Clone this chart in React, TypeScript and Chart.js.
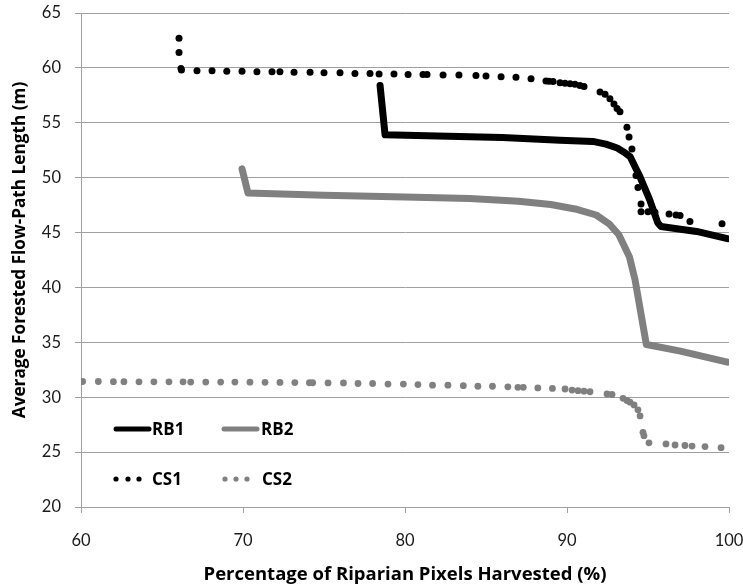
import React, { useEffect, useRef } from "react";
import { Chart, registerables } from "chart.js";

Chart.register(...registerables);

const xTicks = [60, 70, 80, 90, 100];
const yTicks = [20, 25, 30, 35, 40, 45, 50, 55, 60, 65];
const xTitle = "Percentage of Riparian Pixels Harvested (%)";
const yTitle = "Average Forested Flow-Path Length (m)";

const rb1X = [78.46, 78.77, 82, 86, 89.57, 91.6, 92.4, 93.1, 93.55, 93.9, 94.2, 94.5, 95.1, 95.6, 95.8, 98.0, 99.9];
const rb1Y = [58.4, 53.9, 53.8, 53.65, 53.4, 53.3, 53.05, 52.7, 52.3, 51.9, 51.0, 50.1, 48.0, 45.9, 45.55, 45.1, 44.45];

const rb2X = [69.94, 70.31, 75, 80, 84, 87, 89, 90.5, 91.8, 92.6, 93.2, 93.85, 94.2, 94.9, 97.0, 99.9];
const rb2Y = [50.8, 48.6, 48.4, 48.25, 48.1, 47.85, 47.55, 47.15, 46.6, 45.8, 44.8, 42.8, 40.7, 34.8, 34.2, 33.2];

const cs1X = [66.05, 66.05, 66.17, 66.2, 67.16, 68.09, 69.0, 69.94, 70.86, 71.79, 72.28, 73.15, 74.14, 75.0, 75.99, 76.91, 77.84, 78.4, 79.32, 80.19, 81.11, 81.36, 82.35, 83.33, 84.38, 85.0, 85.93, 86.85, 87.78, 88.7, 88.89, 89.14, 89.57, 89.88, 90.19, 90.49, 90.8, 91.05, 92.04, 92.35, 92.65, 92.9, 93.09, 93.27, 93.7, 93.83, 94.01, 94.26, 94.38, 94.57, 94.57, 95.0, 95.43, 96.3, 96.73, 96.98, 97.59, 99.57];
const cs1Y = [62.7, 61.4, 59.95, 59.8, 59.75, 59.75, 59.7, 59.7, 59.65, 59.65, 59.65, 59.6, 59.6, 59.55, 59.55, 59.5, 59.5, 59.45, 59.45, 59.4, 59.4, 59.4, 59.35, 59.35, 59.3, 59.25, 59.2, 59.15, 59.0, 58.8, 58.78, 58.75, 58.65, 58.6, 58.55, 58.5, 58.4, 58.3, 57.8, 57.6, 57.2, 56.7, 56.3, 56.0, 54.6, 53.7, 52.6, 50.2, 49.1, 47.6, 46.9, 46.9, 46.85, 46.7, 46.6, 46.55, 46.0, 45.8];

const cs2X = [60.1, 61.07, 62.0, 62.65, 63.58, 64.5, 65.43, 66.3, 66.77, 67.7, 68.62, 69.5, 70.43, 71.36, 72.28, 73.2, 74.1, 74.3, 75.25, 76.2, 77.1, 78.0, 78.95, 79.9, 80.8, 81.7, 82.65, 83.6, 84.5, 85.4, 86.35, 86.97, 87.3, 88.2, 89.1, 89.88, 90.31, 90.68, 91.05, 91.42, 92.47, 92.78, 93.46, 93.7, 93.89, 94.14, 94.38, 94.51, 94.69, 94.75, 95.06, 96.11, 96.67, 97.28, 97.72, 98.52, 99.51];
const cs2Y = [31.43, 31.43, 31.42, 31.42, 31.4, 31.4, 31.4, 31.4, 31.38, 31.38, 31.38, 31.38, 31.37, 31.36, 31.35, 31.33, 31.32, 31.32, 31.3, 31.3, 31.25, 31.25, 31.2, 31.2, 31.15, 31.1, 31.1, 31.05, 31.0, 31.0, 30.95, 30.9, 30.9, 30.85, 30.8, 30.75, 30.65, 30.6, 30.55, 30.5, 30.3, 30.25, 29.9, 29.7, 29.55, 29.3, 28.85, 28.3, 26.8, 26.5, 25.85, 25.75, 25.65, 25.6, 25.55, 25.5, 25.4];

const seriesNames = ["RB1", "RB2", "CS1", "CS2"];

const BLACK = "#000000";
const GRAY = "#808080";
const GRID = "#a0a0a0";
const TEXT = "#1a1a1a";
const FONT = "Lato";
const TITLE_FONT = "'Open Sans'";

function pts(xs: number[], ys: number[]) {
  return xs.map((x, i) => ({ x, y: ys[i] }));
}

const overlayPlugin = {
  id: "overlay",
  afterDraw(chart: any) {
    const ctx = chart.ctx as CanvasRenderingContext2D;
    ctx.save();
    // axis titles
    ctx.fillStyle = BLACK;
    ctx.textAlign = "center";
    ctx.textBaseline = "middle";
    ctx.font = `bold 18.5px ${TITLE_FONT}`;
    ctx.fillText(xTitle, 405, 575);
    ctx.font = `bold 17.2px ${TITLE_FONT}`;
    ctx.save();
    ctx.translate(20, 250);
    ctx.rotate(-Math.PI / 2);
    ctx.fillText(yTitle, 0, 0);
    ctx.restore();

    // legend
    ctx.font = `bold 17px ${TITLE_FONT}`;
    ctx.textBaseline = "middle";
    ctx.textAlign = "left";
    const row1 = 429;
    const row2 = 479;
    ctx.lineCap = "round";
    ctx.lineWidth = 5;
    ctx.strokeStyle = BLACK;
    ctx.beginPath();
    ctx.moveTo(116, row1);
    ctx.lineTo(149, row1);
    ctx.stroke();
    ctx.fillStyle = BLACK;
    ctx.fillText(seriesNames[0], 152, row1 + 1);
    ctx.strokeStyle = GRAY;
    ctx.beginPath();
    ctx.moveTo(224, row1);
    ctx.lineTo(257, row1);
    ctx.stroke();
    ctx.fillStyle = BLACK;
    ctx.fillText(seriesNames[1], 261, row1 + 1);
    const dot = (x: number, y: number, c: string) => {
      ctx.fillStyle = c;
      ctx.beginPath();
      ctx.arc(x, y, 2.6, 0, Math.PI * 2);
      ctx.fill();
    };
    [116, 128, 139].forEach((x) => dot(x, row2, BLACK));
    ctx.fillStyle = BLACK;
    ctx.fillText(seriesNames[2], 152, row2 + 1);
    [225, 236, 247].forEach((x) => dot(x, row2, GRAY));
    ctx.fillStyle = BLACK;
    ctx.fillText(seriesNames[3], 262, row2 + 1);
    ctx.restore();
  },
};

export default function App() {
  const ref = useRef<HTMLCanvasElement>(null);
  useEffect(() => {
    document.body.style.margin = "0";
    const canvas = ref.current!;
    const chart = new Chart(canvas, {
      type: "scatter",
      data: {
        datasets: [
          {
            label: "CS2",
            data: pts(cs2X, cs2Y),
            showLine: false,
            pointRadius: 3.4,
            pointBackgroundColor: GRAY,
            pointBorderWidth: 0,
            borderColor: GRAY,
          },
          {
            label: "RB2",
            data: pts(rb2X, rb2Y),
            showLine: true,
            borderColor: GRAY,
            borderWidth: 7,
            pointRadius: 0,
            borderCapStyle: "round",
            borderJoinStyle: "round",
            tension: 0,
          },
          {
            label: "RB1",
            data: pts(rb1X, rb1Y),
            showLine: true,
            borderColor: BLACK,
            borderWidth: 7,
            pointRadius: 0,
            borderCapStyle: "round",
            borderJoinStyle: "round",
            tension: 0,
          },
          {
            label: "CS1",
            data: pts(cs1X, cs1Y),
            showLine: false,
            pointRadius: 3.5,
            pointBackgroundColor: BLACK,
            pointBorderWidth: 0,
            borderColor: BLACK,
          },
        ],
      },
      options: {
        responsive: false,
        animation: false,
        events: [],
        layout: { padding: { top: 13, right: 14, left: 0, bottom: 0 } },
        plugins: { legend: { display: false }, tooltip: { enabled: false } },
        scales: {
          x: {
            type: "linear",
            min: 60,
            max: 100,
            afterFit: (s: any) => {
              s.height = 81;
              s.paddingLeft = 0;
              s.paddingRight = 0;
            },
            afterBuildTicks: (s: any) => {
              s.ticks = xTicks.map((v) => ({ value: v }));
            },
            ticks: {
              font: { family: FONT, size: 16.5 },
              color: TEXT,
              padding: 18,
              maxRotation: 0,
            },
            grid: {
              drawOnChartArea: false,
              tickLength: 6,
              color: GRID,
              tickColor: GRID,
            },
            border: { color: GRID, width: 1 },
            title: { display: false },
          },
          y: {
            type: "linear",
            min: 20,
            max: 65,
            afterFit: (s: any) => {
              s.width = 81;
              s.paddingTop = 0;
              s.paddingBottom = 0;
            },
            afterBuildTicks: (s: any) => {
              s.ticks = yTicks.map((v) => ({ value: v }));
            },
            ticks: {
              font: { family: FONT, size: 16.5 },
              color: TEXT,
              padding: 14,
            },
            grid: {
              color: GRID,
              tickColor: GRID,
              tickLength: 6,
            },
            border: { color: GRID, width: 1 },
            title: { display: false },
          },
        },
      },
      plugins: [overlayPlugin],
    } as any);
    return () => chart.destroy();
  }, []);
  return (
    <div style={{ width: 743, height: 588, background: "#fff" }}>
      <canvas ref={ref} width={743} height={588} style={{ width: 743, height: 588, display: "block" }} />
    </div>
  );
}
